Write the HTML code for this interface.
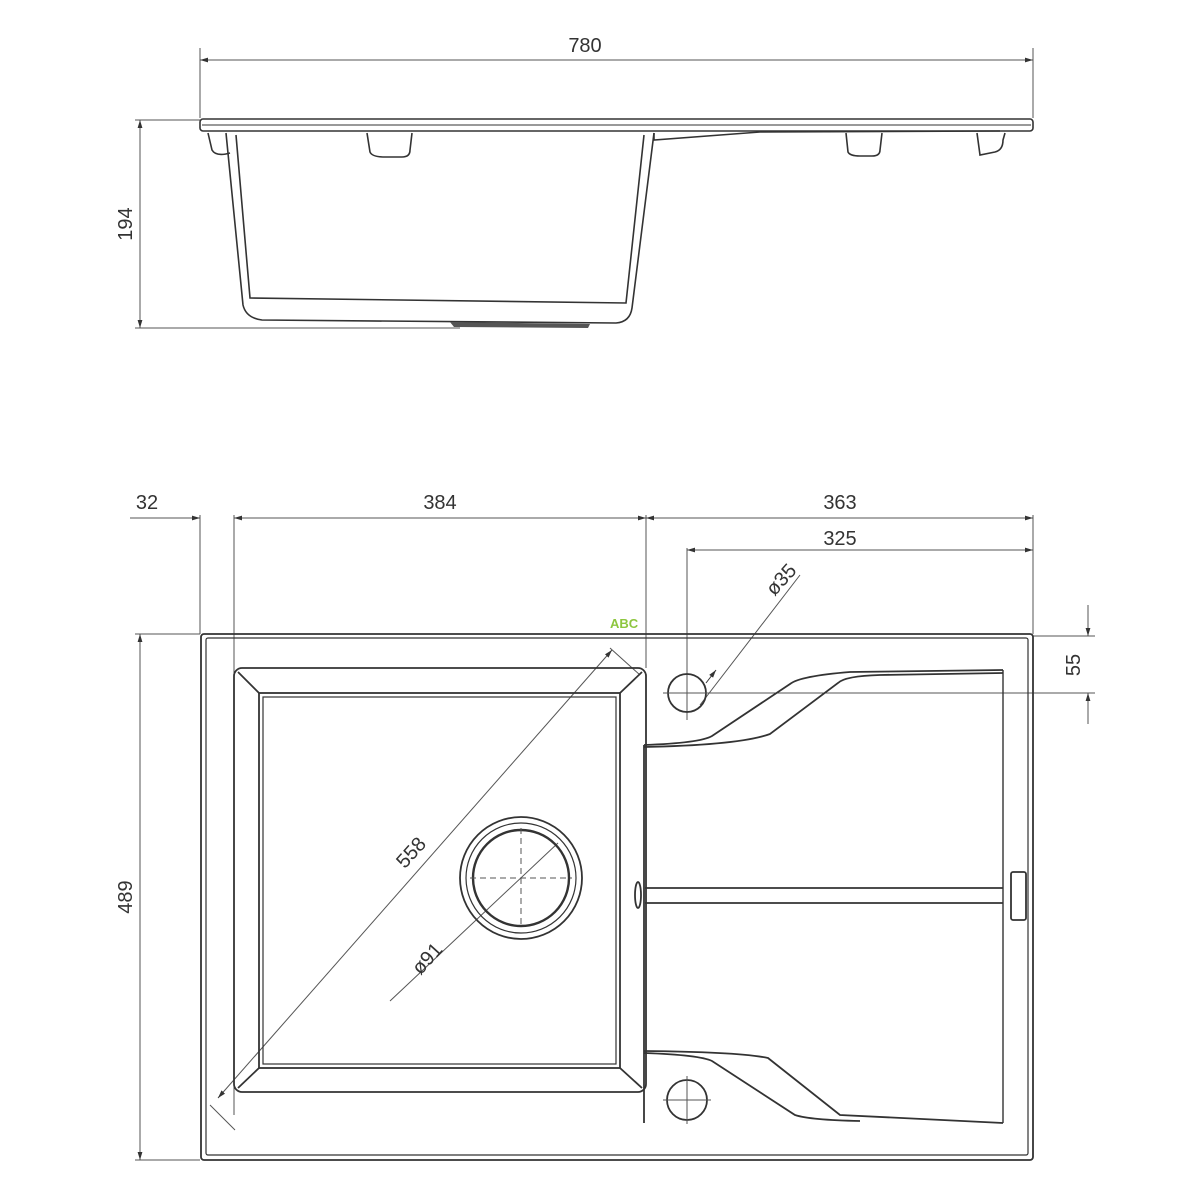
<!DOCTYPE html>
<html><head><style>
html,body{margin:0;padding:0;background:#fff;}
svg{display:block;}
text{font-family:"Liberation Sans",sans-serif;font-size:20px;fill:#333;}
</style></head><body>
<svg width="1200" height="1200" viewBox="0 0 1200 1200" xmlns="http://www.w3.org/2000/svg">
<defs>
<marker id="a" viewBox="0 0 10 10" refX="10" refY="5" markerWidth="8" markerHeight="8" orient="auto-start-reverse"><path d="M0,2 L10,5 L0,8 z" fill="#333"/></marker>
</defs>
<g stroke="#555" stroke-width="1" fill="none">
<!-- top view dimensions -->
<line x1="200" y1="48" x2="200" y2="118"/><line x1="1033" y1="48" x2="1033" y2="118"/>
<line x1="200" y1="60" x2="1033" y2="60" marker-start="url(#a)" marker-end="url(#a)"/>
<line x1="135" y1="120" x2="200" y2="120"/><line x1="135" y1="328" x2="460" y2="328"/>
<line x1="140" y1="120" x2="140" y2="328" marker-start="url(#a)" marker-end="url(#a)"/>
<!-- plan dims -->
<line x1="200" y1="515" x2="200" y2="634"/><line x1="234" y1="515" x2="234" y2="1115"/>
<line x1="646" y1="515" x2="646" y2="668"/><line x1="1033" y1="515" x2="1033" y2="634"/>
<line x1="687" y1="548" x2="687" y2="720"/>
<line x1="130" y1="518" x2="200" y2="518" marker-end="url(#a)"/>
<line x1="234" y1="518" x2="646" y2="518" marker-start="url(#a)" marker-end="url(#a)"/>
<line x1="646" y1="518" x2="1033" y2="518" marker-start="url(#a)" marker-end="url(#a)"/>
<line x1="687" y1="550" x2="1033" y2="550" marker-start="url(#a)" marker-end="url(#a)"/>
<line x1="1033" y1="636" x2="1095" y2="636"/><line x1="705" y1="693" x2="1095" y2="693"/>
<line x1="1088" y1="605" x2="1088" y2="636" marker-end="url(#a)"/>
<line x1="1088" y1="724" x2="1088" y2="693" marker-end="url(#a)"/>
<line x1="135" y1="634" x2="200" y2="634"/><line x1="135" y1="1160" x2="200" y2="1160"/>
<line x1="140" y1="634" x2="140" y2="1160" marker-start="url(#a)" marker-end="url(#a)"/>
<!-- diag 558 -->
<line x1="218" y1="1098" x2="612" y2="650" marker-start="url(#a)" marker-end="url(#a)"/>
<line x1="210" y1="1105" x2="235" y2="1130"/><line x1="610" y1="648" x2="640" y2="675"/>
<line x1="390" y1="1001" x2="558" y2="843"/>
<line x1="700" y1="705" x2="800" y2="575"/>
</g>
<g stroke="#333" stroke-width="1" fill="none">
<line x1="706" y1="683" x2="716" y2="670" marker-end="url(#a)"/>
</g>
<text x="585" y="52" text-anchor="middle">780</text>
<text transform="translate(132,224) rotate(-90)" text-anchor="middle">194</text>
<text x="147" y="509" text-anchor="middle">32</text>
<text x="440" y="509" text-anchor="middle">384</text>
<text x="840" y="509" text-anchor="middle">363</text>
<text x="840" y="545" text-anchor="middle">325</text>
<text transform="translate(1080,665) rotate(-90)" text-anchor="middle">55</text>
<text transform="translate(132,897) rotate(-90)" text-anchor="middle">489</text>
<text transform="translate(416,857) rotate(-48)" text-anchor="middle">558</text>
<text transform="translate(432,963) rotate(-48)" text-anchor="middle">ø91</text>
<text transform="translate(786,584) rotate(-48)" text-anchor="middle">ø35</text>
<text x="610" y="628" style="font-size:13px;fill:#8dc63f;font-weight:bold">ABC</text>
<!-- top view drawing -->
<g stroke="#333" stroke-width="1.6" fill="none">
<rect x="200" y="119" width="833" height="12" rx="3"/>
<line x1="202" y1="125" x2="1031" y2="125" stroke-width="1"/>
<path d="M226,133 L243,305 Q246,318 262,320 L616,323 Q630,322 632,308 L654,133"/>
<path d="M236,135 L250,298 L626,303 L644,135"/>
<path d="M208,133 L212,150 Q216,157 230,153"/>
<path d="M367,133 L370,152 Q372,157 385,157 L402,157 Q410,157 410,150 L412,133"/>
<path d="M846,133 L848,152 Q850,156 860,156 L872,156 Q880,156 880,150 L882,133"/>
<path d="M977,133 L980,155 L995,152 Q1003,150 1003,140 L1005,133"/>
<path d="M654,133 L654,140 L760,132 L1000,131"/>
</g>
<path d="M450,322 L590,324 L588,328 L454,327 z" fill="#555"/>
<!-- plan -->
<g stroke="#333" stroke-width="1.8" fill="none">
<rect x="201" y="634" width="832" height="526" rx="3"/>
<rect x="206" y="638" width="822" height="517" rx="2" stroke-width="1.2"/>
<rect x="234" y="668" width="412" height="424" rx="8"/>
<rect x="259" y="693" width="361" height="375"/>
<rect x="263" y="697" width="353" height="367" stroke-width="1.2"/>
<line x1="238" y1="672" x2="259" y2="693"/><line x1="642" y1="672" x2="620" y2="693"/>
<line x1="238" y1="1088" x2="259" y2="1068"/><line x1="642" y1="1088" x2="620" y2="1068"/>
<circle cx="521" cy="878" r="61"/>
<circle cx="521" cy="878" r="55" stroke-width="1.2"/>
<circle cx="521" cy="878" r="48" stroke-width="2.4"/>
<circle cx="687" cy="693" r="19"/>
<circle cx="687" cy="1100" r="20"/>
<line x1="644" y1="745" x2="644" y2="1123"/>
<line x1="1003" y1="670" x2="1003" y2="1123" stroke-width="1.4"/>
<path d="M644,745 Q700,743 712,736 L790,684 Q800,676 850,672 L1003,670"/>
<path d="M644,747 Q740,745 770,734 L838,683 Q845,676 880,675 L1003,673"/>
<path d="M645,888 L1003,888 M645,903 L1003,903"/>
<ellipse cx="638" cy="895" rx="3" ry="13"/>
<path d="M644,1051 Q740,1052 768,1058 L840,1115 L1003,1123"/>
<path d="M644,1053 Q700,1055 712,1061 L795,1115 Q810,1120 860,1121"/>
<rect x="1011" y="872" width="15" height="48" rx="2"/>
</g>
<g stroke="#555" stroke-width="1" fill="none" stroke-dasharray="6,4">
<line x1="470" y1="878" x2="572" y2="878"/><line x1="521" y1="828" x2="521" y2="928"/>
</g>
<g stroke="#555" stroke-width="1" fill="none">
<line x1="663" y1="693" x2="711" y2="693"/>
<line x1="663" y1="1100" x2="711" y2="1100"/><line x1="687" y1="1076" x2="687" y2="1124"/>
</g>
</svg>
</body></html>
